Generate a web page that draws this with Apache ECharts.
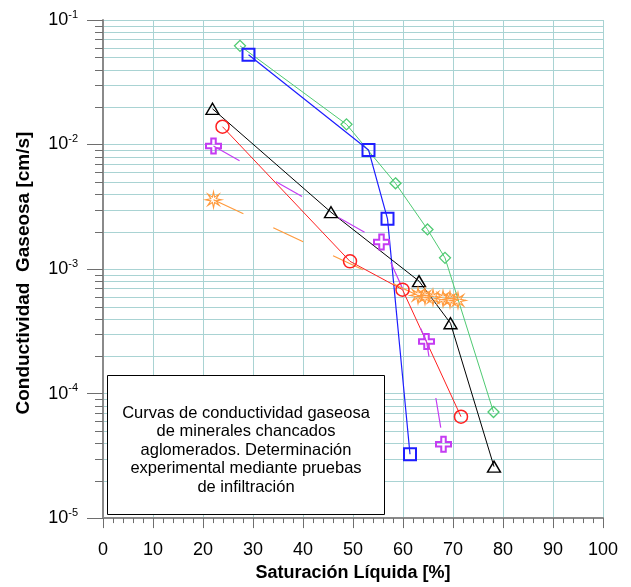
<!DOCTYPE html>
<html>
<head>
<meta charset="utf-8">
<style>
  html, body { margin: 0; padding: 0; background: #fff; }
  #chart { width: 631px; height: 587px; }
</style>
<script src="https://cdn.jsdelivr.net/npm/echarts@6/dist/echarts.min.js"></script>
</head>
<body>
<div id="chart"></div>
<script>
// Gas conductivity vs liquid saturation, agglomerated crushed ores
const satGreen  = [27.4, 48.7, 58.5, 64.9, 68.4, 78.1];
const condGreen = [0.0620, 0.01452, 0.00488, 0.00208, 0.00123, 7.11e-5];

const satBlue  = [29.1, 53.1, 56.9, 61.4];
const condBlue = [0.0526, 0.00905, 0.00253, 3.26e-5];

const satBlack  = [21.9, 45.6, 63.2, 69.5, 78.2];
const condBlack = [0.01936, 0.00286, 8.0e-4, 3.67e-4, 2.59e-5];

const satRed  = [23.9, 49.4, 59.9, 71.6];
const condRed = [0.0139, 0.001153, 6.83e-4, 6.52e-5];

const satPurple  = [22.1, 55.7, 64.7, 68.1];
const condPurple = [0.00974, 0.00165, 2.62e-4, 3.92e-5];

const satOrange  = [22.1, 63.0, 64.4, 66.0, 68.0, 69.4, 71.0];
const condOrange = [0.00360, 6.14e-4, 6.03e-4, 5.92e-4, 5.81e-4, 5.70e-4, 5.60e-4];

const yDecades = [-5, -4, -3, -2];          // decades that get minor lines
const minorSteps = [2, 3, 4, 5, 6, 7, 8, 9];
const xTitle = 'Saturación Líquida [%]';
const yTitle = 'Conductividad  Gaseosa [cm/s]';
const noteLines = [
  'Curvas de conductividad gaseosa',
  'de minerales chancados',
  'aglomerados. Determinación',
  'experimental mediante pruebas',
  'de infiltración'
];

const FONT = '"Liberation Sans", Arial, sans-serif';
const GRID_COLOR = '#a9d3d3';
const AXIS_COLOR = '#8a8a8a';
const TICK_COLOR = '#6e6e6e';

const minorVals = [];
yDecades.forEach(d => minorSteps.forEach(m => minorVals.push(m * Math.pow(10, d))));

function zip(xs, ys) { return xs.map((x, i) => [x, ys[i]]); }

function starPath(n, rOut, rIn) {
  let d = '';
  for (let i = 0; i < 2 * n; i++) {
    const r = i % 2 === 0 ? rOut : rIn;
    const a = -Math.PI / 2 + i * Math.PI / n;
    const x = (10 + r * Math.cos(a)).toFixed(2);
    const y = (10 + r * Math.sin(a)).toFixed(2);
    d += (i === 0 ? 'M' : 'L') + x + ',' + y + ' ';
  }
  return 'path://' + d + 'Z';
}
const CROSS = 'path://M3.5,0 L6.5,0 L6.5,3.5 L10,3.5 L10,6.5 L6.5,6.5 L6.5,10 L3.5,10 L3.5,6.5 L0,6.5 L0,3.5 L3.5,3.5 Z';
const STAR = starPath(8, 10, 3.6);

function lineSeries(name, xs, ys, color, symbol, size, opts) {
  opts = opts || {};
  return {
    name: name,
    type: 'line',
    data: zip(xs, ys),
    symbol: symbol,
    symbolSize: size,
    showAllSymbol: true,
    z: 3,
    lineStyle: { color: color, width: opts.width || 1, type: opts.dash || 'solid' },
    itemStyle: { color: 'rgba(0,0,0,0)', borderColor: color, borderWidth: opts.border || 1.5 },
    emphasis: { disabled: true },
    animation: false
  };
}

const chart = echarts.init(document.getElementById('chart'), null, { renderer: 'canvas' });

chart.setOption({
  animation: false,
  backgroundColor: '#fff',
  grid: { left: 103, top: 20, width: 500, height: 501, containLabel: false },
  xAxis: {
    type: 'value',
    min: 0, max: 100, interval: 10,
    name: xTitle,
    nameLocation: 'middle',
    nameGap: 43,
    nameTextStyle: { fontFamily: FONT, fontSize: 18, fontWeight: 'bold', color: '#000' },
    axisLine: { show: true, onZero: false, lineStyle: { color: AXIS_COLOR, width: 2 } },
    axisTick: { show: true, length: 10, lineStyle: { color: TICK_COLOR, width: 1 } },
    minorTick: { show: true, splitNumber: 5, length: 5, lineStyle: { color: TICK_COLOR, width: 1 } },
    axisLabel: { fontFamily: FONT, fontSize: 18, color: '#000', margin: 23 },
    splitLine: { show: true, lineStyle: { color: GRID_COLOR, width: 1 } }
  },
  yAxis: {
    type: 'log',
    logBase: 10,
    min: 1e-5, max: 1e-1,
    name: yTitle,
    nameLocation: 'middle',
    nameGap: 70,
    nameTextStyle: { fontFamily: FONT, fontSize: 19, fontWeight: 'bold', color: '#000', padding: [0, 8, 0, 0] },
    axisLine: { show: true, onZero: false, lineStyle: { color: AXIS_COLOR, width: 2 } },
    axisTick: { show: true, length: 16, lineStyle: { color: TICK_COLOR, width: 1 } },
    axisLabel: {
      margin: 25,
      formatter: v => '{b|10}{s|' + Math.round(Math.log10(v)) + '}',
      rich: {
        b: { fontFamily: FONT, fontSize: 18, lineHeight: 22, color: '#000' },
        s: { fontFamily: FONT, fontSize: 11, lineHeight: 7, verticalAlign: 'top', color: '#000' }
      }
    },
    splitLine: { show: true, lineStyle: { color: GRID_COLOR, width: 1 } }
  },
  series: [
    {
      // minor log grid lines (2..9 in each decade) with their short axis ticks
      type: 'custom',
      z: 1,
      silent: true,
      clip: false,
      data: minorVals.map(v => [0, v]),
      renderItem: function (params, api) {
        const v = api.value(1);
        const p0 = api.coord([0, v]);
        const p1 = api.coord([100, v]);
        const y = Math.round(p0[1]) + 0.5;
        return {
          type: 'group',
          children: [
            { type: 'line', shape: { x1: p0[0] + 1, y1: y, x2: p1[0], y2: y },
              style: { stroke: GRID_COLOR, lineWidth: 1 } },
            { type: 'line', shape: { x1: p0[0] - 8, y1: y, x2: p0[0], y2: y },
              style: { stroke: TICK_COLOR, lineWidth: 1 } }
          ]
        };
      },
      animation: false
    },
    lineSeries('green',  satGreen,  condGreen,  '#4fca72', 'diamond', [11, 11], { border: 1.3 }),
    lineSeries('blue',   satBlue,   condBlue,   '#1e1eff', 'rect', 12, { border: 2, width: 1.2 }),
    lineSeries('black',  satBlack,  condBlack,  '#000000', 'triangle', [13, 11], { border: 1.4 }),
    lineSeries('red',    satRed,    condRed,    '#ff2020', 'circle', 13, { border: 1.5 }),
    lineSeries('purple', satPurple, condPurple, '#c43cf2', CROSS, 15, { border: 2, dash: [30, 42], width: 1.2 }),
    lineSeries('orange', satOrange, condOrange, '#ff9a3c', STAR, 16, { border: 1.1, dash: [33, 33], width: 1.2 })
  ],
  graphic: [
    {
      type: 'rect',
      shape: { x: 107.5, y: 375.5, width: 277, height: 139 },
      style: { fill: '#fff', stroke: '#000', lineWidth: 1 },
      z: 100
    },
    {
      type: 'text',
      x: 246, y: 450,
      z: 101,
      style: {
        text: noteLines.join('\n'),
        font: '16.5px ' + FONT,
        fill: '#000',
        align: 'center',
        verticalAlign: 'middle',
        lineHeight: 18.5
      }
    }
  ]
});
</script>
</body>
</html>
